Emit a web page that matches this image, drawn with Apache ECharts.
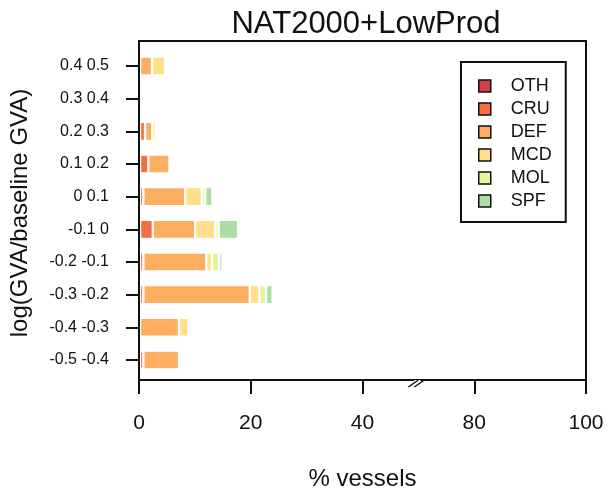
<!DOCTYPE html>
<html>
<head>
<meta charset="utf-8">
<script src="https://cdn.jsdelivr.net/npm/echarts@6/dist/echarts.min.js"></script>
<style>
  html, body { margin: 0; padding: 0; background: #fff; }
  #chart { width: 609px; height: 496px; }
</style>
</head>
<body>
<div id="chart"></div>
<script>
// categories, bottom to top
const classes = ['-0.5 -0.4', '-0.4 -0.3', '-0.3 -0.2', '-0.2 -0.1', '-0.1 0',
                 '0 0.1', '0.1 0.2', '0.2 0.3', '0.3 0.4', '0.4 0.5'];
const OTH = [0, 0, 0, 0, 0, 0, 0, 0, 0, 0];
const CRU = [0.6, 0, 0.6, 0.6, 2.3, 0.6, 1.5, 0.9, 0, 0];
const DEF = [6.4, 7.0, 19.1, 11.3, 7.6, 7.5, 3.8, 1.3, 0, 2.15];
const MCD = [0, 1.7, 1.7, 1.0, 3.6, 3.0, 0.15, 0.6, 0, 2.35];
const MOL = [0, 0, 1.2, 1.3, 0.6, 0.6, 0, 0, 0, 0];
const SPF = [0, 0, 1.2, 0.6, 3.5, 1.3, 0.15, 0, 0, 0];
// axis is broken at 50: tick positions 0..80 carry labels 0,20,40,80,100
const xTicks = [0, 20, 40, 80, 100];
const breakAt = 50;

const groups = [
  { name: 'OTH', data: OTH, color: '#d53e4f' },
  { name: 'CRU', data: CRU, color: '#f46d43' },
  { name: 'DEF', data: DEF, color: '#fdae61' },
  { name: 'MCD', data: MCD, color: '#fee08b' },
  { name: 'MOL', data: MOL, color: '#e6f598' },
  { name: 'SPF', data: SPF, color: '#abdda4' }
];

const font = 'Liberation Sans, Arial, sans-serif';
const chart = echarts.init(document.getElementById('chart'));

chart.setOption({
  animation: false,
  title: {
    text: 'NAT2000+LowProd',
    left: 361,
    top: 4,
    textAlign: 'center',
    textStyle: { fontFamily: font, fontSize: 31, fontWeight: 'normal', color: '#111' }
  },
  legend: {
    orient: 'vertical',
    left: 461,
    top: 62,
    data: groups.map(g => g.name),
    icon: 'rect',
    itemWidth: 12,
    itemHeight: 12,
    itemGap: 5,
    padding: [15, 14, 12, 17],
    borderColor: '#111',
    borderWidth: 2,
    itemStyle: { borderColor: '#111', borderWidth: 1.5 },
    textStyle: { fontFamily: font, fontSize: 18, color: '#111', lineHeight: 18, padding: [0, 0, 0, 15] }
  },
  grid: [
    { left: 139, right: 23, top: 49.7, bottom: 119.7 },
    { left: 139, right: 23, top: 41, bottom: 113, show: true, borderColor: '#111', borderWidth: 2, z: 10 }
  ],
  xAxis: [
    { gridIndex: 0, type: 'value', min: 0, max: 80, show: false },
    {
      gridIndex: 1, type: 'value', min: 0, max: 80, interval: 20,
      name: '% vessels', nameLocation: 'middle', nameGap: 87,
      nameTextStyle: { fontFamily: font, fontSize: 24, color: '#111' },
      axisLine: { show: false },
      axisTick: { show: true, length: 14, lineStyle: { color: '#111', width: 2 } },
      axisLabel: {
        margin: 33, fontFamily: font, fontSize: 21, color: '#111',
        formatter: v => String(xTicks[v / 20])
      },
      splitLine: { show: false }
    }
  ],
  yAxis: [
    {
      gridIndex: 0, type: 'category', data: classes,
      name: 'log(GVA/baseline GVA)', nameLocation: 'middle', nameGap: 108, nameRotate: 90,
      nameTextStyle: { fontFamily: font, fontSize: 24, color: '#111' },
      axisLine: { show: false },
      axisTick: { show: true, alignWithLabel: true, length: 14, lineStyle: { color: '#111', width: 2 } },
      axisLabel: { margin: 31, fontFamily: font, fontSize: 16, color: '#111' }
    },
    { gridIndex: 1, type: 'value', show: false }
  ],
  series: groups.map(g => ({
    name: g.name,
    type: 'bar',
    stack: 'total',
    xAxisIndex: 0,
    yAxisIndex: 0,
    barWidth: 19,
    data: g.data,
    itemStyle: { color: g.color, borderColor: '#fff', borderWidth: 1.2 }
  }))
});

// break mark on the x axis
const bx = chart.convertToPixel({ xAxisIndex: 1 }, breakAt);
const by = 383;
chart.setOption({
  graphic: [
    { type: 'rect', shape: { x: bx - 4, y: by - 3, width: 6, height: 6 }, style: { fill: '#fff' }, z: 100 },
    { type: 'line', shape: { x1: bx - 10, y1: by + 4, x2: bx, y2: by - 3 }, style: { stroke: '#111', lineWidth: 1.5 }, z: 101 },
    { type: 'line', shape: { x1: bx - 4, y1: by + 4, x2: bx + 6, y2: by - 3 }, style: { stroke: '#111', lineWidth: 1.5 }, z: 101 }
  ]
});
</script>
</body>
</html>
